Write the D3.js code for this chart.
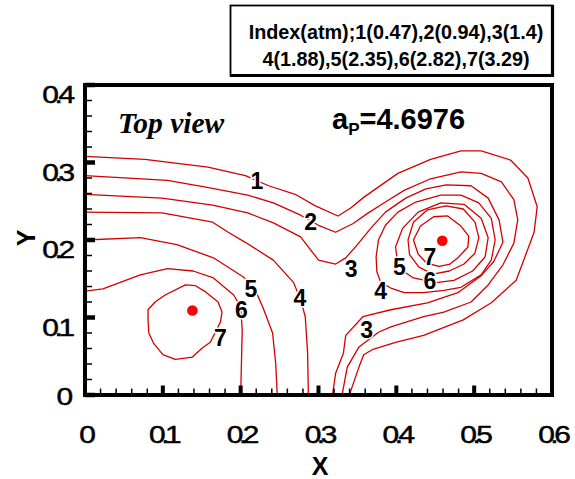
<!DOCTYPE html>
<html>
<head>
<meta charset="utf-8">
<script src="https://cdn.jsdelivr.net/npm/d3@7"></script>
<style>
  body { margin: 0; background: #fff; }
  svg { display: block; }
</style>
</head>
<body>
<svg id="chart" width="575" height="479"></svg>
<script>
// Contour levels (index -> pressure in atm)
const levelIndex = [1, 2, 3, 4, 5, 6, 7];
const levelAtm = [0.47, 0.94, 1.4, 1.88, 2.35, 2.82, 3.29];

// Axis ticks
const xTicks = [0, 0.1, 0.2, 0.3, 0.4, 0.5, 0.6];
const yTicks = [0, 0.1, 0.2, 0.3, 0.4];
const xTickLabels = ["0", "0.1", "0.2", "0.3", "0.4", "0.5", "0.6"];
const yTickLabels = ["0", "0.1", "0.2", "0.3", "0.4"];

// Contour paths, [x, y] in metres
const level1Path = [[0,0.308],[0.077,0.304],[0.158,0.294],[0.206,0.283],[0.236,0.270],[0.270,0.259],[0.296,0.244],[0.325,0.231],[0.341,0.241],[0.358,0.255],[0.402,0.286],[0.444,0.304],[0.483,0.315],[0.509,0.315],[0.547,0.303],[0.569,0.280],[0.581,0.243],[0.577,0.210],[0.554,0.148],[0.522,0.119],[0.486,0.097],[0.435,0.077],[0.399,0.068],[0.370,0.059],[0.358,0.052],[0.352,0.036],[0.341,0.004],[0.340,0]];
const level2Path = [[0,0.283],[0.106,0.277],[0.157,0.268],[0.209,0.258],[0.242,0.248],[0.277,0.232],[0.300,0.219],[0.322,0.210],[0.344,0.221],[0.364,0.235],[0.386,0.249],[0.410,0.264],[0.444,0.279],[0.483,0.288],[0.509,0.286],[0.535,0.275],[0.551,0.252],[0.556,0.226],[0.551,0.196],[0.537,0.168],[0.518,0.142],[0.496,0.120],[0.461,0.107],[0.435,0.101],[0.393,0.088],[0.377,0.081],[0.352,0.062],[0.337,0.036],[0.331,0.004],[0.331,0]];
const level3Path = [[0,0.259],[0.099,0.254],[0.164,0.245],[0.209,0.235],[0.242,0.222],[0.277,0.204],[0.300,0.174],[0.322,0.169],[0.335,0.177],[0.350,0.194],[0.367,0.215],[0.386,0.236],[0.412,0.254],[0.438,0.266],[0.464,0.271],[0.496,0.270],[0.518,0.254],[0.532,0.226],[0.537,0.197],[0.525,0.172],[0.509,0.154],[0.479,0.132],[0.440,0.119],[0.393,0.110],[0.357,0.101],[0.335,0.077],[0.332,0.054],[0.322,0.028],[0.318,0]];
const level4West = [[0,0.236],[0.099,0.235],[0.164,0.223],[0.184,0.210],[0.206,0.197],[0.242,0.174],[0.268,0.145],[0.277,0.123],[0.283,0.101],[0.286,0.054],[0.287,0]];
const level4East = [[0.374,0.178],[0.377,0.200],[0.386,0.219],[0.402,0.236],[0.425,0.249],[0.457,0.258],[0.483,0.258],[0.506,0.248],[0.522,0.228],[0.527,0.200],[0.522,0.174],[0.509,0.155],[0.483,0.139],[0.461,0.135],[0.435,0.132],[0.410,0.132],[0.393,0.138],[0.380,0.145],[0.375,0.159]];
const level5West = [[0,0.200],[0.071,0.203],[0.118,0.194],[0.165,0.177],[0.204,0.152],[0.219,0.135],[0.229,0.112],[0.241,0.080],[0.245,0.041],[0.247,0]];
const level5East = [[0.402,0.168],[0.399,0.191],[0.408,0.215],[0.428,0.236],[0.457,0.248],[0.487,0.246],[0.509,0.228],[0.518,0.203],[0.514,0.178],[0.498,0.160],[0.474,0.148],[0.451,0.145],[0.422,0.151],[0.410,0.159]];
const level6West = [[0,0.134],[0.023,0.137],[0.071,0.155],[0.106,0.163],[0.139,0.160],[0.165,0.151],[0.191,0.129],[0.200,0.114],[0.202,0.084],[0.201,0.041],[0.200,0]];
const level6East = [[0.415,0.200],[0.422,0.223],[0.440,0.239],[0.464,0.244],[0.486,0.240],[0.501,0.223],[0.506,0.203],[0.501,0.183],[0.487,0.169],[0.468,0.160],[0.447,0.156],[0.429,0.165],[0.417,0.181]];
const level7West = [[0.081,0.110],[0.090,0.120],[0.103,0.129],[0.129,0.142],[0.142,0.141],[0.155,0.133],[0.171,0.120],[0.176,0.107],[0.174,0.094],[0.161,0.068],[0.151,0.061],[0.138,0.049],[0.116,0.046],[0.100,0.052],[0.088,0.067],[0.082,0.080],[0.081,0.097]];
const level7East = [[0.422,0.200],[0.431,0.218],[0.448,0.230],[0.466,0.231],[0.483,0.218],[0.493,0.205],[0.492,0.191],[0.479,0.177],[0.469,0.169],[0.455,0.166],[0.439,0.170],[0.428,0.182]];

// Label placements: [level, x, y]
const contourLabels = [[1,0.221,0.276],[2,0.290,0.223],[3,0.342,0.162],[3,0.362,0.084],[4,0.276,0.125],[4,0.380,0.134],[5,0.213,0.137],[5,0.404,0.165],[6,0.201,0.110],[6,0.443,0.147],[7,0.174,0.074],[7,0.443,0.178]];

// Pressure maxima
const peaks = [[0.138, 0.109], [0.459, 0.199]];

const contours = [
  { level: 1, closed: false, pts: level1Path },
  { level: 2, closed: false, pts: level2Path },
  { level: 3, closed: false, pts: level3Path },
  { level: 4, closed: false, pts: level4West },
  { level: 4, closed: true,  pts: level4East },
  { level: 5, closed: false, pts: level5West },
  { level: 5, closed: true,  pts: level5East },
  { level: 6, closed: false, pts: level6West },
  { level: 6, closed: true,  pts: level6East },
  { level: 7, closed: true,  pts: level7West },
  { level: 7, closed: true,  pts: level7East }
];

const svg = d3.select("#chart");
svg.append("rect").attr("width", 575).attr("height", 479).attr("fill", "#fff");

const x = d3.scaleLinear().domain([0, 0.6]).range([85, 552]);
const y = d3.scaleLinear().domain([0, 0.4]).range([395, 85]);

const SANS = "'Liberation Sans', Arial, Helvetica, sans-serif";
const SERIF = "'Liberation Serif', 'Times New Roman', serif";
const RED = "#d20000";

// Clip region for contour lines
svg.append("clipPath").attr("id", "plotClip")
  .append("rect").attr("x", x(0)).attr("y", y(0.4))
  .attr("width", x(0.6) - x(0)).attr("height", y(0) - y(0.4));

const plot = svg.append("g").attr("clip-path", "url(#plotClip)");

const openLine = d3.line().x(d => x(d[0])).y(d => y(d[1])).curve(d3.curveLinear);
const closedLine = d3.line().x(d => x(d[0])).y(d => y(d[1])).curve(d3.curveLinearClosed);

plot.selectAll("path.contour")
  .data(contours)
  .join("path")
  .attr("class", "contour")
  .attr("d", d => (d.closed ? closedLine : openLine)(d.pts))
  .attr("fill", "none")
  .attr("stroke", RED)
  .attr("stroke-width", 1.3)
  .attr("stroke-linejoin", "round");

// Peak markers
plot.selectAll("circle.peak")
  .data(peaks)
  .join("circle")
  .attr("class", "peak")
  .attr("cx", d => x(d[0]))
  .attr("cy", d => y(d[1]))
  .attr("r", 5.3)
  .attr("fill", "#ff0000");

// Contour level labels
svg.append("g").selectAll("text")
  .data(contourLabels)
  .join("text")
  .attr("x", d => x(d[1]))
  .attr("y", d => y(d[2]) + 8)
  .attr("text-anchor", "middle")
  .attr("font-family", SANS)
  .attr("font-weight", "bold")
  .attr("font-size", 23)
  .attr("fill", "#000")
  .attr("stroke", "#fff")
  .attr("stroke-width", 3)
  .attr("paint-order", "stroke")
  .text(d => levelIndex[d[0] - 1]);

// Frame
svg.append("rect")
  .attr("x", x(0)).attr("y", y(0.4))
  .attr("width", x(0.6) - x(0)).attr("height", y(0) - y(0.4))
  .attr("fill", "none").attr("stroke", "#000").attr("stroke-width", 4);

// Minor / major ticks, pointing inward
const xMinor = d3.range(0, 0.6001, 0.02).filter(v => Math.abs(v * 10 - Math.round(v * 10)) > 1e-6);
const yMinor = d3.range(0, 0.4001, 0.02).filter(v => Math.abs(v * 10 - Math.round(v * 10)) > 1e-6);
const ticks = svg.append("g").attr("stroke", "#000");
ticks.selectAll("line.xmin").data(xMinor).join("line")
  .attr("x1", d => x(d)).attr("x2", d => x(d))
  .attr("y1", y(0)).attr("y2", y(0) - 6.5).attr("stroke-width", 1.5);
ticks.selectAll("line.xmaj").data(xTicks).join("line")
  .attr("x1", d => x(d)).attr("x2", d => x(d))
  .attr("y1", y(0)).attr("y2", y(0) - 9.5).attr("stroke-width", 4);
ticks.selectAll("line.ymin").data(yMinor).join("line")
  .attr("x1", x(0)).attr("x2", x(0) + 7)
  .attr("y1", d => y(d)).attr("y2", d => y(d)).attr("stroke-width", 1.5);
ticks.selectAll("line.ymaj").data(yTicks).join("line")
  .attr("x1", x(0)).attr("x2", x(0) + 10)
  .attr("y1", d => y(d)).attr("y2", d => y(d)).attr("stroke-width", 4.5);

// Tick labels: wide numerals, squeezed so the decimal point tucks under the zero
const tickStyle = sel => sel
  .attr("font-family", SANS)
  .attr("font-size", 23)
  .attr("fill", "#000")
  .attr("stroke", "#000")
  .attr("stroke-width", 0.45);
const squeeze = (sel, labels) => sel.each(function (d, i) {
  const t = d3.select(this).text(labels[i]);
  if (labels[i].length > 1) {
    t.attr("textLength", 25.1).attr("lengthAdjust", "spacing");
  }
});

svg.append("g").selectAll("text")
  .data(xTicks)
  .join("text")
  .attr("transform", d => `translate(${x(d) + 2.5},443) scale(1.3,1)`)
  .attr("text-anchor", "middle")
  .call(tickStyle)
  .call(squeeze, xTickLabels);

svg.append("g").selectAll("text")
  .data(yTicks)
  .join("text")
  .attr("transform", (d, i) => i === 0 ? `translate(73,${y(d) + 9.5}) scale(1.3,1)` : `translate(75,${y(d) + 18}) scale(1.3,1)`)
  .attr("text-anchor", "end")
  .call(tickStyle)
  .call(squeeze, yTickLabels);

// Axis titles
svg.append("text")
  .attr("x", 320).attr("y", 475)
  .attr("text-anchor", "middle")
  .attr("font-family", SANS).attr("font-weight", "bold").attr("font-size", 25)
  .text("X");
svg.append("text")
  .attr("transform", "translate(35,238) rotate(-90)")
  .attr("text-anchor", "middle")
  .attr("font-family", SANS).attr("font-weight", "bold").attr("font-size", 25)
  .text("Y");

// Annotations
svg.append("text")
  .attr("x", 118).attr("y", 133)
  .attr("font-family", SERIF).attr("font-weight", "bold").attr("font-style", "italic")
  .attr("font-size", 29.5)
  .text("Top view");

const ap = svg.append("text")
  .attr("x", 332).attr("y", 129)
  .attr("font-family", SANS).attr("font-weight", "bold").attr("font-size", 29);
ap.append("tspan").text("a");
ap.append("tspan").attr("font-size", 17).attr("dy", 6).text("P");
ap.append("tspan").attr("dy", -6).text("=4.6976");

// Level legend box
const legend = svg.append("g");
legend.append("rect")
  .attr("x", 230.5).attr("y", 5.5).attr("width", 322).attr("height", 70)
  .attr("fill", "#fff").attr("stroke", "#000").attr("stroke-width", 1.8);
legend.append("line").attr("x1", 552.5).attr("x2", 552.5).attr("y1", 5).attr("y2", 77)
  .attr("stroke", "#000").attr("stroke-width", 3.2);
legend.append("line").attr("x1", 230).attr("x2", 554).attr("y1", 75.5).attr("y2", 75.5)
  .attr("stroke", "#000").attr("stroke-width", 3.2);

const pairs = levelIndex.map((k, i) => `${k}(${levelAtm[i]})`);
const legendLines = ["Index(atm);" + pairs.slice(0, 3).join(","), pairs.slice(3).join(",")];
legend.selectAll("text.leg")
  .data(legendLines)
  .join("text")
  .attr("class", "leg")
  .attr("x", 396)
  .attr("y", (d, i) => i === 0 ? 39 : 66)
  .attr("text-anchor", "middle")
  .attr("font-family", SANS).attr("font-weight", "bold").attr("font-size", 19.8)
  .text(d => d);
</script>
</body>
</html>
